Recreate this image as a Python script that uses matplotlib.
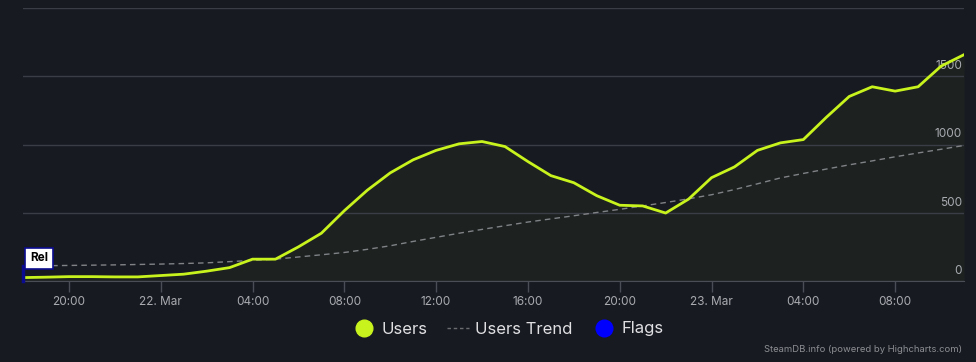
import matplotlib
matplotlib.use("Agg")
import matplotlib.dates as mdates
import matplotlib.pyplot as plt
import matplotlib.transforms as mtransforms
import pandas as pd
from matplotlib.lines import Line2D

# hourly samples, 21 Mar 18:00 -> 23 Mar 11:00
times = pd.date_range("2024-03-21 18:00", periods=42, freq="h")

users = [
    25, 28, 32, 32, 30, 30, 40, 50, 72, 98,
    160, 160, 250, 350, 515, 665, 792, 888, 957, 1005,
    1022, 985, 875, 772, 720, 625, 555, 550, 498, 600,
    757, 836, 957, 1012, 1036, 1199, 1352, 1423, 1391, 1423,
    1574, 1658,
]

users_trend = [
    111, 112, 114, 116, 118, 121, 124, 128, 133, 142,
    151, 160, 176, 192, 209, 232, 258, 290, 320, 350,
    378, 405, 432, 455, 478, 502, 525, 550, 575, 602,
    632, 670, 712, 755, 788, 820, 851, 880, 910, 938,
    965, 993,
]

flag_times = [times[0]]
flag_labels = ["Rel"]

y_ticks = [0, 500, 1000, 1500, 2000]

BG = "#171a21"
GRID = "#3a3d45"
LIME = "#c8f31d"
TXT = "#a9abb0"

plt.rcParams["font.family"] = ["Inter", "DejaVu Sans"]

fig = plt.figure(figsize=(9.76, 3.62), dpi=100, facecolor=BG)
ax = fig.add_axes([23 / 976, 81 / 362, 941 / 976, 273 / 362])
ax.set_facecolor(BG)

ax.fill_between(times, users, 0, color=LIME, alpha=0.035, lw=0)
ax.plot(times, users_trend, color="#808286", lw=1, ls=(0, (4, 3)), zorder=3)
ax.plot(times, users, color=LIME, lw=2, zorder=4, solid_joinstyle="round")

ax.set_xlim(times[0], times[-1])
ax.set_ylim(0, 2000)

# grid + right side labels inside the plot
ax.set_yticks(y_ticks)
ax.yaxis.grid(True, color=GRID, lw=1)
ax.tick_params(axis="y", length=0, labelleft=False)
trans = mtransforms.blended_transform_factory(ax.transAxes, ax.transData)
for v in y_ticks[:-1]:
    ax.annotate(str(v), xy=(0.998, v), xycoords=trans, xytext=(0, 3),
                textcoords="offset points", ha="right", va="bottom",
                color=TXT, fontsize=8.5)

for s in ["top", "left", "right"]:
    ax.spines[s].set_visible(False)
ax.spines["bottom"].set_color("#4a4d55")

ax.xaxis.set_major_locator(mdates.HourLocator(byhour=range(0, 24, 4)))


def fmt_time(x, pos=None):
    d = mdates.num2date(x)
    if d.hour == 0:
        return d.strftime("%d. %b")
    return d.strftime("%H:%M")


ax.xaxis.set_major_formatter(fmt_time)
ax.tick_params(axis="x", colors="#4a4d55", labelcolor=TXT, labelsize=8.5,
               length=8, width=1, pad=3)

# flags
for t, lab in zip(flag_times, flag_labels):
    ax.plot([t, t], [0, 110], color="#0b0b8f", lw=2.5, zorder=5, clip_on=False)
    ax.annotate(lab, xy=(t, 165), xytext=(5, 0), textcoords="offset points",
                ha="left", va="center", fontsize=8.5, fontweight="bold",
                color="black", zorder=6, annotation_clip=False,
                bbox=dict(boxstyle="square,pad=0.42", fc="white",
                          ec="#0b0b8f", lw=1.2))

handles = [
    Line2D([], [], ls="none", marker="o", ms=12, mfc=LIME, mec=LIME),
    Line2D([], [], color="#6a6c70", lw=1, ls=(0, (2.5, 2))),
    Line2D([], [], ls="none", marker="o", ms=12, mfc="#0000ff", mec="#0000ff"),
]
leg = fig.legend(handles, ["Users", "Users Trend", "Flags"], loc="center",
                 bbox_to_anchor=(508 / 976, 1 - 329 / 362), ncol=3, frameon=False,
                 fontsize=12, handlelength=1.3, handletextpad=0.4,
                 columnspacing=1.2)
for t in leg.get_texts():
    t.set_color("#e0e0e3")

fig.text(962 / 976, 1 - 350 / 362, "SteamDB.info (powered by Highcharts.com)",
         ha="right", va="center", fontsize=6.8, color="#8c8e92")

fig.savefig("out.png", dpi=100, facecolor=BG)
